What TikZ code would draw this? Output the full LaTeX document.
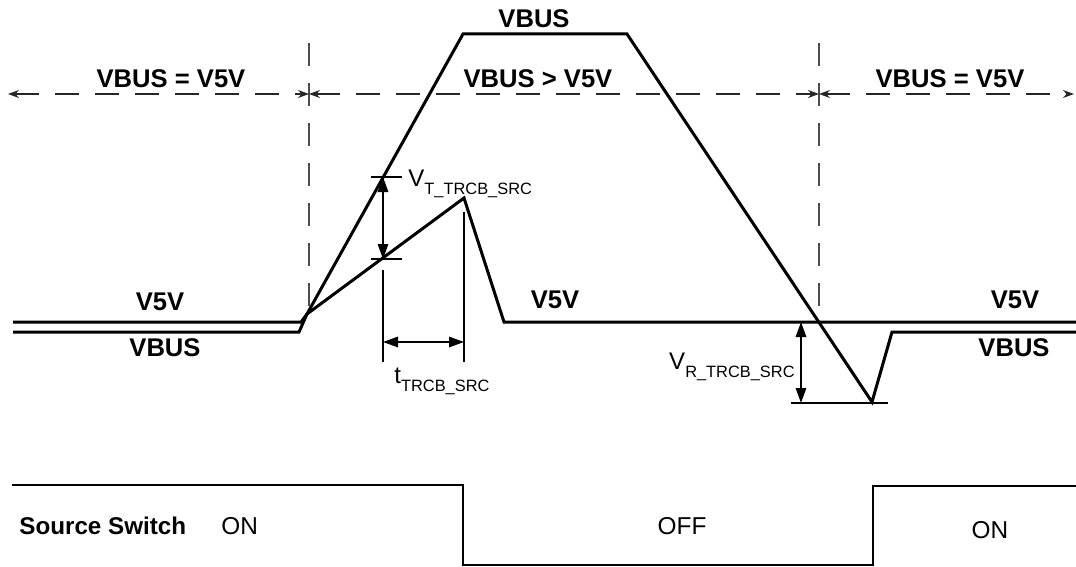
\documentclass[tikz,border=0pt]{standalone}
\usepackage{fontspec}
\setmainfont{Liberation Sans}
\usetikzlibrary{arrows.meta, positioning, calc}

\newcommand{\lowtxt}[1]{\raisebox{-4.4pt}{\fontsize{8.2}{10}\selectfont #1}}

\begin{document}
\begin{tikzpicture}[x=0.5pt, y=-0.5pt,
    wave/.style={line width=1.5pt, line join=miter},
    swline/.style={line width=1.3pt, line join=miter},
    divider/.style={line width=0.6pt, black!70, dash pattern=on 11.5pt off 8.5pt},
    region/.style={line width=0.55pt, black!85, dash pattern=on 12pt off 8pt,
        {Stealth[length=5.5pt, width=4pt]}-{Stealth[length=5.5pt, width=4pt]}},
    dimline/.style={line width=0.9pt,
        {Triangle[length=7.5pt, width=5.2pt]}-{Triangle[length=7.5pt, width=5.2pt]}},
    extline/.style={line width=0.75pt},
    boldlabel/.style={font=\bfseries\fontsize{12.8}{15}\selectfont, anchor=base, inner sep=0pt},
    plainlabel/.style={font=\fontsize{12.2}{14}\selectfont, anchor=base, inner sep=0pt},
    symlabel/.style={font=\fontsize{12}{14}\selectfont, inner sep=0pt}]

    \useasboundingbox (0,0) rectangle (1076,567);

    % phase boundaries and phase arrows
    \coordinate (divAtop) at (309,43);
    \coordinate (divAbot) at (309,313);
    \coordinate (divBtop) at (819,43);
    \coordinate (divBbot) at (819,313);
    \coordinate (regLend) at (8,94);
    \coordinate (regAmid) at (309,94);
    \coordinate (regBmid) at (819,94);
    \coordinate (regRend) at (1074,94);

    \draw[divider] (divAtop) -- (divAbot);
    \draw[divider] (divBtop) -- (divBbot);
    \draw[region] (regLend) -- (regAmid);
    \draw[region] (regAmid) -- (regBmid);
    \draw[region] (regBmid) -- (regRend);

    \node[boldlabel] (regL) at (171,88) {VBUS = V5V};
    \node[boldlabel] (regM) at (538,88) {VBUS > V5V};
    \node[boldlabel] (regR) at (950,88) {VBUS = V5V};

    % waveforms
    \draw[wave] (13,322) -- (301,322) -- (307,314) -- (464,198) -- (504,322) -- (1076,322);
    \draw[wave] (13,332) -- (299,332) -- (307,314) -- (463,34) -- (627,34)
        -- (872,402) -- (892,332) -- (1076,332);

    \node[boldlabel] (vbusTop) at (534,28) {VBUS};
    \node[boldlabel] (v5vL) at (160,310) {V5V};
    \node[boldlabel] (vbusL) at (165,356) {VBUS};
    \node[boldlabel] (v5vM) at (555,308) {V5V};
    \node[boldlabel] (v5vR) at (1015,308) {V5V};
    \node[boldlabel] (vbusR) at (1014,356) {VBUS};

    % trip threshold
    \coordinate (vtTop) at (383,177);
    \coordinate (vtBot) at (383,259);
    \draw[extline] (371,177) -- (402,177);
    \draw[extline] (371,259) -- (402,259);
    \draw[dimline] (vtTop) -- (vtBot);
    \node[symlabel, anchor=base west] (vt) at (408,186) {V\lowtxt{T\_TRCB\_SRC}};

    % trip time
    \coordinate (ttL) at (383,342);
    \coordinate (ttR) at (464,342);
    \draw[extline] (383,270) -- (383,362);
    \draw[extline] (464,212) -- (464,362);
    \draw[dimline] (ttL) -- (ttR);
    \node[symlabel, anchor=base west] (tt) at (394,383) {t\lowtxt{TRCB\_SRC}};

    % reverse threshold
    \coordinate (vrTop) at (801,322);
    \coordinate (vrBot) at (801,403);
    \draw[extline] (791,403) -- (888,403);
    \draw[dimline] (vrTop) -- (vrBot);
    \node[symlabel, anchor=base east] (vr) at (795,369) {V\lowtxt{R\_TRCB\_SRC}};

    % source switch state
    \draw[swline] (12,485) -- (463,485) -- (463,565) -- (873,565) -- (873,486) -- (1076,486);
    \node[boldlabel, anchor=base west, font=\bfseries\fontsize{12.1}{14}\selectfont] (sw) at (19,534) {Source Switch};
    \node[plainlabel, anchor=base west] (onL) at (221,534) {ON};
    \node[plainlabel] (off) at (682,534) {OFF};
    \node[plainlabel] (onR) at (990,538) {ON};
\end{tikzpicture}
\end{document}
